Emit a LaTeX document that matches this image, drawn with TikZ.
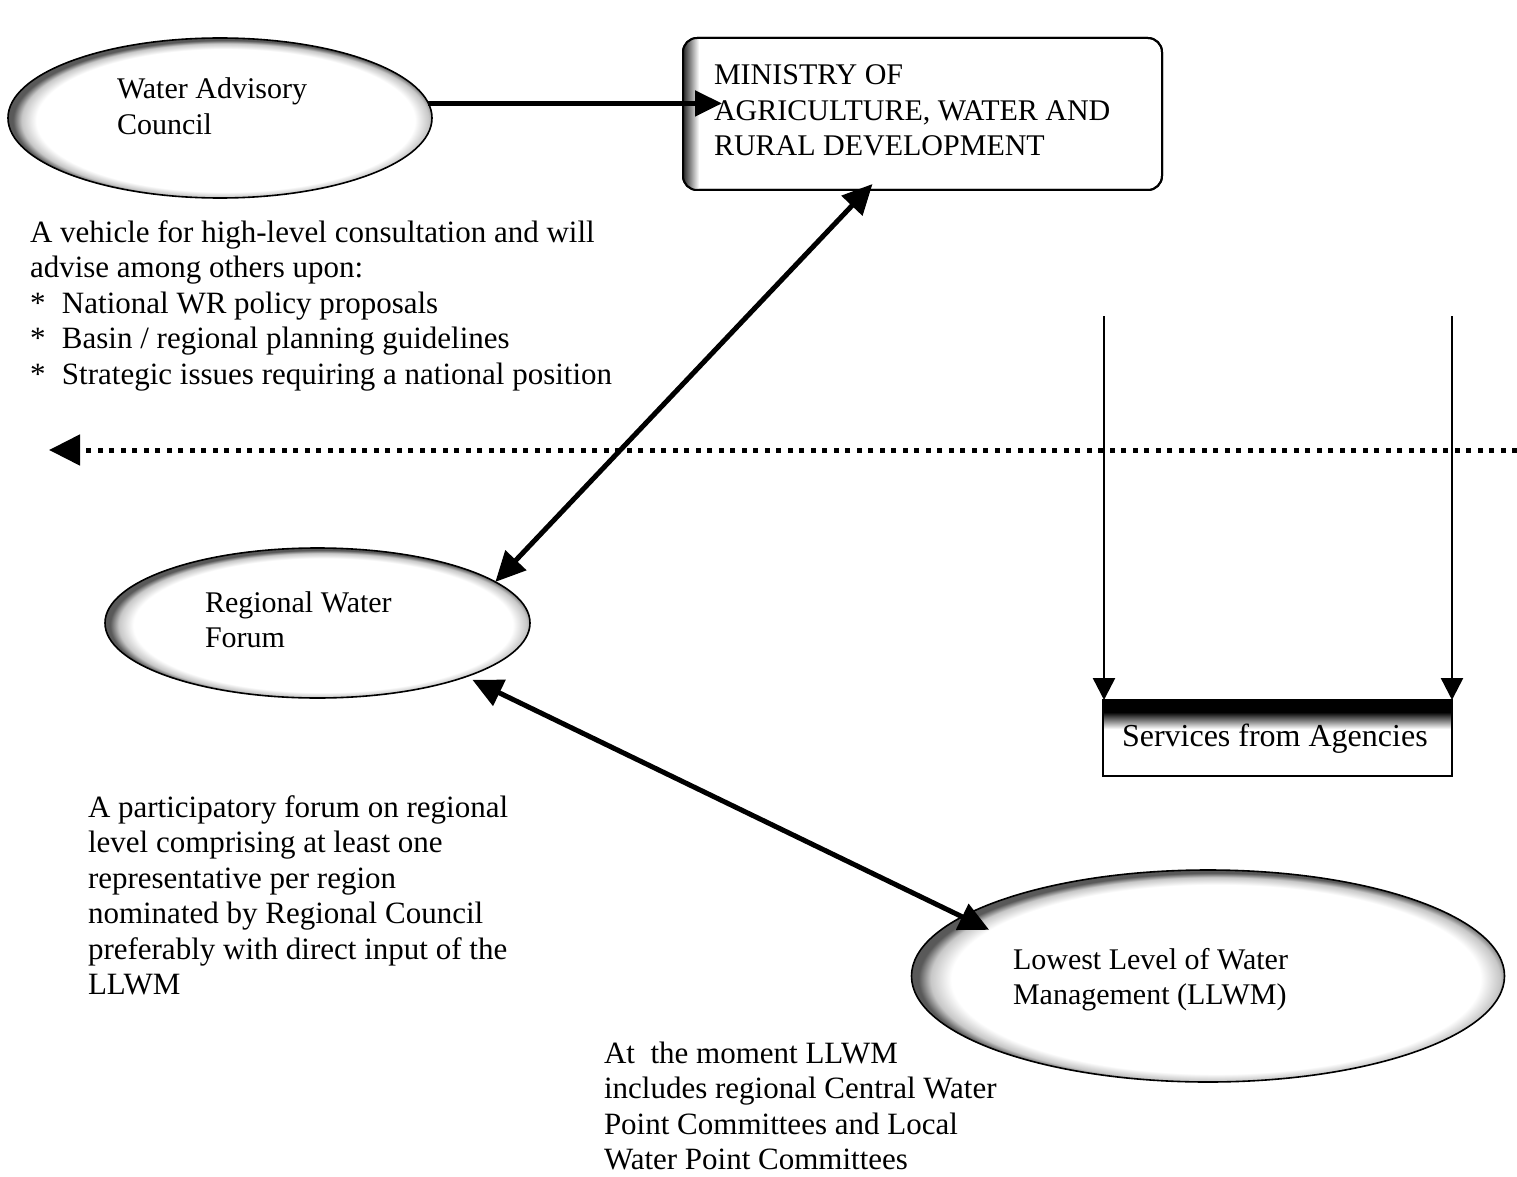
\documentclass[tikz,border=0pt]{standalone}
\usepackage{fontspec}
\setmainfont{Liberation Serif}
\usetikzlibrary{arrows.meta,shapes.geometric,calc}

% bevelled rim for the oval bodies: dark toward the upper left
% (a shaded path's bounding box spans the central 50bp of the shading)
\pgfdeclareradialshading{ovalrim}{\pgfpoint{1.2bp}{-1.4bp}}{%
  color(0bp)=(white); color(22.3bp)=(white); color(24bp)=(black!22); color(25bp)=(black!65); color(50bp)=(black!65)}
% dark band along the top of the agencies box
\pgfdeclareverticalshading{svcband}{100bp}{%
  color(0bp)=(white); color(56bp)=(white); color(67bp)=(black); color(100bp)=(black)}

\begin{document}
\begin{tikzpicture}[x=1pt,y=-1pt,
  every node/.style={font=\fontsize{30}{35.5}\selectfont, inner sep=0pt, outer sep=0pt},
  oval/.style={ellipse, draw, line width=1.6pt, shading=ovalrim},
  txt/.style={anchor=base west, align=left},
  note/.style={txt, font=\fontsize{31}{35.5}\selectfont},
  bigarrow/.style={line width=5pt, -{Triangle[length=27pt,width=25pt]}},
  duo/.style={line width=5pt, {Triangle[length=30pt,width=28pt]}-{Triangle[length=30pt,width=28pt]}},
  thinarrow/.style={line width=2.5pt, -{Triangle[length=22pt,width=22pt]}},
  dotarrow/.style={line width=5pt, dash pattern=on 5pt off 6.5pt, -{Triangle[length=31pt,width=30pt]}},
]
\useasboundingbox[fill=white] (0,0) rectangle (1517,1177);

% ---- bodies ----
\node[oval, minimum width=424pt, minimum height=160pt] (wac) at (220,118) {};
\node[oval, minimum width=425pt, minimum height=150pt] (rwf) at (317.5,623) {};
\node[oval, minimum width=593pt, minimum height=212pt] (llwm) at (1208,976) {};

\node[draw, rounded corners=14pt, line width=2pt, minimum width=479pt, minimum height=152pt,
      anchor=north west] (ministry) at (683,38) {};
\begin{scope}
  \clip[rounded corners=14pt] (683,38) rectangle (1162,190);
  \shade[left color=black!85, right color=white] (683,38) rectangle (699,190);
\end{scope}
\draw[rounded corners=14pt, line width=2pt] (683,38) rectangle (1162,190);

\node[draw, line width=2pt, minimum width=349pt, minimum height=76pt,
      anchor=north west, shading=svcband] (svc) at (1103,700) {};

% ---- labels inside the bodies (anchored at the last baseline) ----
\node[txt] (wacText) at (117,134.5) {Water Advisory\\Council};
\node[txt] (minText) at (714,156) {MINISTRY OF\\AGRICULTURE, WATER AND\\RURAL DEVELOPMENT};
\node[txt] (rwfText) at (205,647.5) {Regional Water\\Forum};
\node[txt] (llwmText) at (1013,1004.5) {Lowest Level of Water\\Management (LLWM)};
\node[txt, font=\fontsize{32}{35.5}\selectfont] (svcText) at (1122,746) {Services from Agencies};

% ---- explanatory notes ----
\node[note] (wacNote) at (30,384) {A vehicle for high-level consultation and will\\
  advise among others upon:\\
  \makebox[32pt][l]{*}National WR policy proposals\\
  \makebox[32pt][l]{*}Basin / regional planning guidelines\\
  \makebox[32pt][l]{*}Strategic issues requiring a national position};
\node[note] (rwfNote) at (88,994.5) {A participatory forum on regional\\
  level comprising at least one\\
  representative per region\\
  nominated by Regional Council\\
  preferably with direct input of the\\
  LLWM};
\node[note] (llwmNote) at (604,1169.5) {At\ \ the moment LLWM\\
  includes regional Central Water\\
  Point Committees and Local\\
  Water Point Committees};

% ---- connectors ----
\draw[bigarrow] (wac.4) -- ($(wac.4 -| ministry.west)+(39,0)$);
\draw[duo] (rwf.13) -- ([shift={(-50,-6)}]ministry.south);
\draw[duo] ([shift={(7,3)}]rwf.-20) -- ([shift={(36,8)}]llwm.168);

\coordinate (edgeR) at (1517,450);
\coordinate (edgeL) at (49,450);
\draw[dotarrow] (edgeR) -- (edgeL);

\coordinate (feedL) at (1104,316);
\coordinate (feedR) at (1452,316);
\draw[thinarrow] (feedL) -- (feedL |- svc.north);
\draw[thinarrow] (feedR) -- (feedR |- svc.north);
\end{tikzpicture}
\end{document}
